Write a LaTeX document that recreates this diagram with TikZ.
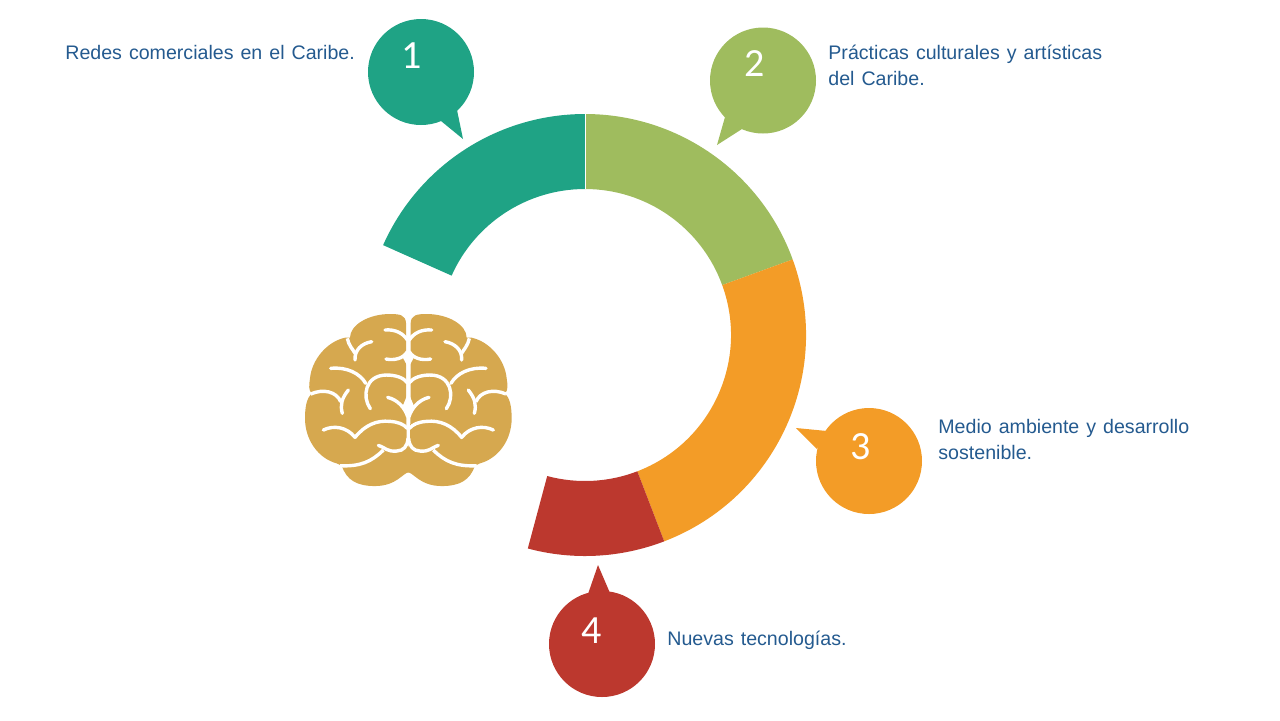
\documentclass[tikz,border=0pt]{standalone}
\usepackage{fontspec}
\setmainfont{Liberation Sans}
\newfontfamily\numfont{Carlito}
\definecolor{cteal}{HTML}{1FA385}
\definecolor{cgreen}{HTML}{9FBC5E}
\definecolor{corange}{HTML}{F39C27}
\definecolor{cred}{HTML}{BC382E}
\definecolor{cbrain}{HTML}{D6A84F}
\definecolor{ctext}{HTML}{245A8F}
\tikzset{
  lab/.style={anchor=base west,inner sep=0pt,text=ctext,font=\fontsize{9.8}{13}\selectfont,align=left,execute at begin node={\spaceskip=3.5pt\relax}},
  num/.style={inner sep=0pt,text=white,font=\numfont\fontsize{20}{20}\selectfont},
  gyr/.style={draw=white,line width=1.7pt,line cap=round,line join=round},
}
\newcommand{\seg}[3]{\fill[#1] (585,335) ++(#2:221) arc[start angle=#2,end angle=#3,radius=221] -- ++(#3:-75) arc[start angle=#3,end angle=#2,radius=146] -- cycle;}
\newcommand{\brainhalf}{%
  \fill[cbrain] (356,517) .. controls (340,517) and (320,558) .. (255,558)
    .. controls (200,558) and (170,540) .. (155,497) -- (140,490)
    .. controls (85,475) and (45,420) .. (45,355)
    .. controls (45,320) and (50,295) .. (65,280)
    .. controls (55,270) and (57,255) .. (60,235)
    .. controls (65,180) and (110,125) .. (165,113) -- (180,113)
    .. controls (180,75) and (235,42) .. (300,42)
    .. controls (330,42) and (347,45) .. (348,70) -- (348,300) -- (350,420) -- (356,445) -- cycle;
  \draw[gyr] (285,90) .. controls (315,87) and (340,100) .. (352,120);
  \draw[gyr] (288,177) .. controls (315,182) and (340,175) .. (352,155);
  \draw[gyr,line cap=butt] (172,115) .. controls (175,135) and (190,150) .. (195,160);
  \draw[gyr] (195,180) .. controls (193,150) and (215,130) .. (245,125);
  \draw[gyr] (122,205) .. controls (170,200) and (210,220) .. (227,250);
  \draw[gyr] (241,326) .. controls (215,290) and (225,225) .. (290,225) .. controls (315,225) and (340,232) .. (352,248);
  \draw[gyr,line cap=butt] (62,282) .. controls (100,265) and (140,275) .. (152,305);
  \draw[gyr] (157,340) .. controls (150,315) and (155,295) .. (175,270);
  \draw[gyr] (293,292) .. controls (325,300) and (345,325) .. (353,350);
  \draw[gyr] (100,390) .. controls (130,375) and (170,380) .. (195,412) .. controls (225,375) and (260,360) .. (300,364) .. controls (325,366) and (340,372) .. (352,385);
  \draw[gyr,line cap=butt] (150,497) .. controls (210,500) and (245,485) .. (280,450);
  \draw[gyr] (265,436) .. controls (290,445) and (290,455) .. (320,453) .. controls (340,452) and (352,440) .. (354,415);
  \fill[white] (338,172) -- (355,148) -- (356,205) -- cycle;
  \fill[white] (338,318) -- (356,275) -- (356,365) -- cycle;
}
\begin{document}
\begin{tikzpicture}[x=0.5pt,y=-0.5pt]
\useasboundingbox (0,0) rectangle (1280,720);
\seg{cteal}{-90}{-156}
\seg{cgreen}{-20}{-90}
\seg{corange}{69}{-20}
\seg{cred}{105}{69}
\draw[white,line width=0.25pt] (585,114) -- (585,189);
% bubbles
\fill[cteal] (421,72) circle[radius=53];
\fill[cteal] (441,121) -- (463,139) -- (457,110) -- cycle;
\fill[cgreen] (763,80.5) circle[radius=53];
\fill[cgreen] (725,117) -- (717,145) -- (742,129) -- cycle;
\fill[corange] (869,461) circle[radius=53];
\fill[corange] (827,431) -- (796,428) -- (817,449) -- cycle;
\fill[cred] (602,644) circle[radius=53];
\fill[cred] (588,594) -- (598,565) -- (610,593) -- cycle;
\node[num] (n1) at (412,56) {1};
\node[num] (n2) at (755,64) {2};
\node[num] (n3) at (861,447) {3};
\node[num] (n4) at (592,631) {4};
\node[lab] (t1) at (65,59) {Redes comerciales en el Caribe.};
\node[lab] (t2) at (828,85) {Prácticas culturales y artísticas\\del Caribe.};
\node[lab] (t3) at (938,459) {Medio ambiente y desarrollo\\sostenible.};
\node[lab] (t4) at (667,645) {Nuevas tecnologías.};
% brain
\begin{scope}[shift={(290,300)},x=0.1667pt,y=-0.1667pt]
\brainhalf
\end{scope}
\begin{scope}[shift={(526.67,300)},x=-0.1667pt,y=-0.1667pt]
\brainhalf
\end{scope}
\end{tikzpicture}
\end{document}
